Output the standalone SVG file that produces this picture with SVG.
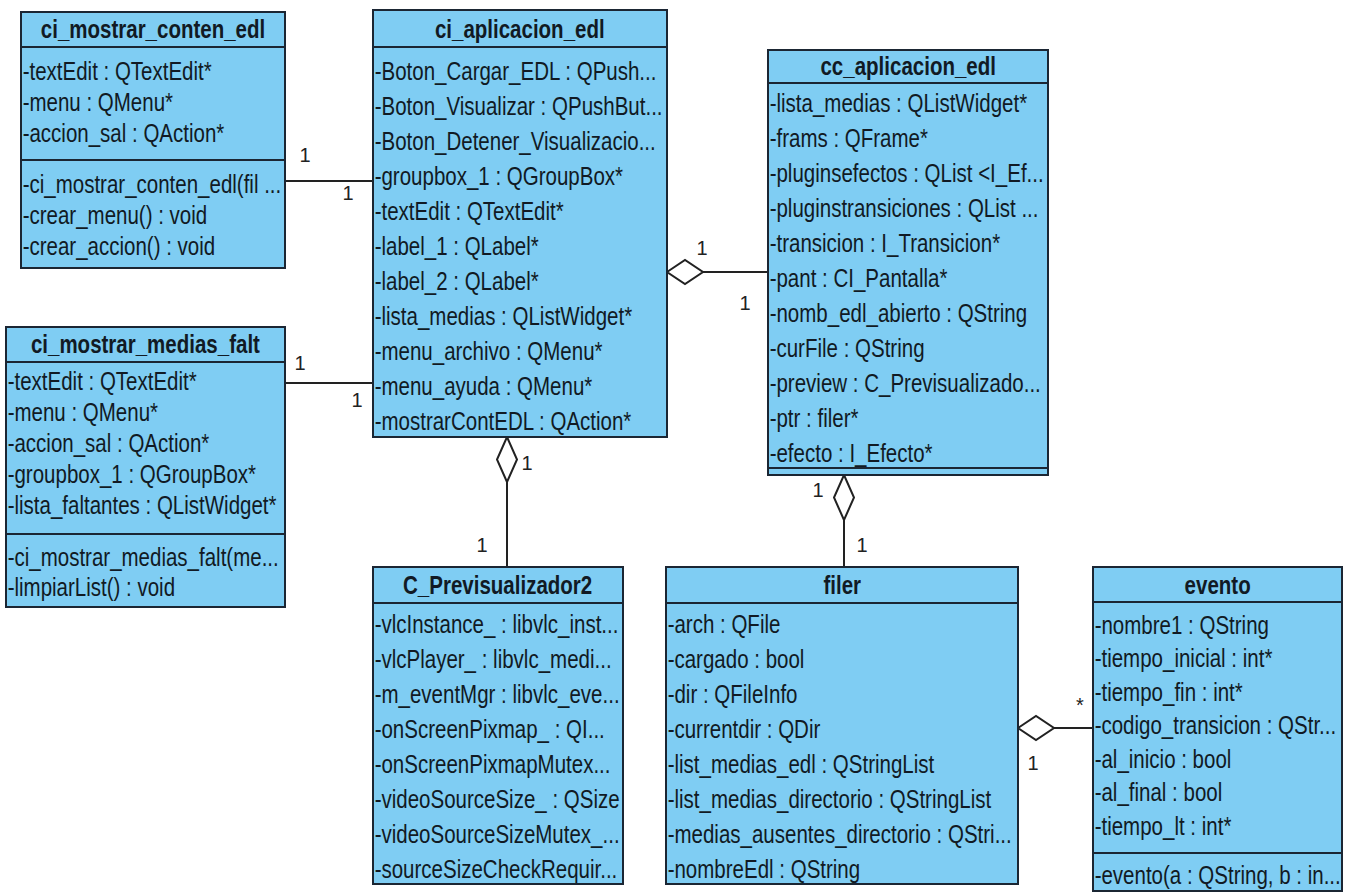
<svg xmlns="http://www.w3.org/2000/svg" width="1352" height="892" viewBox="0 0 1352 892">
  <style>
    .box { fill: #7fcdf3; stroke: #1b2633; stroke-width: 2; }
    .div { stroke: #1b2633; stroke-width: 2; }
    .t { font-family: "Liberation Sans", Arial, sans-serif; font-size: 25px; fill: #111a24; }
    .title { font-weight: bold; text-anchor: middle; }
    .conn { stroke: #222222; stroke-width: 2; fill: none; }
    .agg { fill: #ffffff; stroke: #222222; stroke-width: 2; }
    .mult { font-family: "Liberation Sans", Arial, sans-serif; font-size: 20px; fill: #222222; text-anchor: middle; }
  </style>
  <rect x="0" y="0" width="1352" height="892" fill="#ffffff"/>

  <!-- associations and aggregations -->
  <g id="connectors">
    <line class="conn" x1="285" y1="181" x2="373" y2="181"/>
    <line class="conn" x1="285" y1="383" x2="373" y2="383"/>
    <line class="conn" x1="703" y1="272" x2="768" y2="272"/>
    <polygon class="agg" points="667,272 685,260 703,272 685,284"/>
    <line class="conn" x1="507" y1="482" x2="507" y2="567"/>
    <polygon class="agg" points="507,437 517,459.5 507,482 497,459.5"/>
    <line class="conn" x1="844" y1="520" x2="844" y2="567"/>
    <polygon class="agg" points="844,475 854,497.5 844,520 834,497.5"/>
    <line class="conn" x1="1054" y1="728" x2="1093" y2="728"/>
    <polygon class="agg" points="1018,728 1036,716 1054,728 1036,740"/>
    <text class="mult" x="305" y="162">1</text>
    <text class="mult" x="348" y="200">1</text>
    <text class="mult" x="300" y="370">1</text>
    <text class="mult" x="357" y="407">1</text>
    <text class="mult" x="702" y="255">1</text>
    <text class="mult" x="745" y="310">1</text>
    <text class="mult" x="527" y="470">1</text>
    <text class="mult" x="482" y="552">1</text>
    <text class="mult" x="818" y="497">1</text>
    <text class="mult" x="862" y="552">1</text>
    <text class="mult" x="1080" y="712">*</text>
    <text class="mult" x="1033" y="770">1</text>
  </g>

  <g id="ci_mostrar_conten_edl">
    <rect class="box" x="21" y="12" width="264" height="256"/>
    <line class="div" x1="21" y1="47" x2="285" y2="47"/>
    <line class="div" x1="21" y1="160" x2="285" y2="160"/>
    <g class="t" transform="translate(21,0) scale(0.82,1)">
      <text class="title" x="161" y="38">ci_mostrar_conten_edl</text>
      <text x="2" y="80">-textEdit : QTextEdit*</text>
      <text x="2" y="111">-menu : QMenu*</text>
      <text x="2" y="142">-accion_sal : QAction*</text>
      <text x="2" y="193">-ci_mostrar_conten_edl(fil ...</text>
      <text x="2" y="224">-crear_menu() : void</text>
      <text x="2" y="255">-crear_accion() : void</text>
    </g>
  </g>

  <g id="ci_mostrar_medias_falt">
    <rect class="box" x="6" y="327" width="279" height="280"/>
    <line class="div" x1="6" y1="362" x2="285" y2="362"/>
    <line class="div" x1="6" y1="534" x2="285" y2="534"/>
    <g class="t" transform="translate(6,0) scale(0.82,1)">
      <text class="title" x="170" y="353">ci_mostrar_medias_falt</text>
      <text x="2" y="390">-textEdit : QTextEdit*</text>
      <text x="2" y="421">-menu : QMenu*</text>
      <text x="2" y="452">-accion_sal : QAction*</text>
      <text x="2" y="483">-groupbox_1 : QGroupBox*</text>
      <text x="2" y="514">-lista_faltantes : QListWidget*</text>
      <text x="2" y="566">-ci_mostrar_medias_falt(me...</text>
      <text x="2" y="596">-limpiarList() : void</text>
    </g>
  </g>

  <g id="ci_aplicacion_edl">
    <rect class="box" x="373" y="10" width="294" height="427"/>
    <line class="div" x1="373" y1="47" x2="667" y2="47"/>
    <g class="t" transform="translate(373,0) scale(0.82,1)">
      <text class="title" x="179" y="38">ci_aplicacion_edl</text>
      <text x="2" y="80">-Boton_Cargar_EDL : QPush...</text>
      <text x="2" y="115">-Boton_Visualizar : QPushBut...</text>
      <text x="2" y="150">-Boton_Detener_Visualizacio...</text>
      <text x="2" y="185">-groupbox_1 : QGroupBox*</text>
      <text x="2" y="220">-textEdit : QTextEdit*</text>
      <text x="2" y="255">-label_1 : QLabel*</text>
      <text x="2" y="290">-label_2 : QLabel*</text>
      <text x="2" y="325">-lista_medias : QListWidget*</text>
      <text x="2" y="360">-menu_archivo : QMenu*</text>
      <text x="2" y="395">-menu_ayuda : QMenu*</text>
      <text x="2" y="430">-mostrarContEDL : QAction*</text>
    </g>
  </g>

  <g id="cc_aplicacion_edl">
    <rect class="box" x="768" y="50" width="280" height="425"/>
    <line class="div" x1="768" y1="83" x2="1048" y2="83"/>
    <line class="div" x1="768" y1="468" x2="1048" y2="468"/>
    <g class="t" transform="translate(768,0) scale(0.82,1)">
      <text class="title" x="171" y="75">cc_aplicacion_edl</text>
      <text x="2" y="112">-lista_medias : QListWidget*</text>
      <text x="2" y="147">-frams : QFrame*</text>
      <text x="2" y="182">-pluginsefectos : QList &lt;I_Ef...</text>
      <text x="2" y="217">-pluginstransiciones : QList ...</text>
      <text x="2" y="252">-transicion : I_Transicion*</text>
      <text x="2" y="287">-pant : CI_Pantalla*</text>
      <text x="2" y="322">-nomb_edl_abierto : QString</text>
      <text x="2" y="357">-curFile : QString</text>
      <text x="2" y="392">-preview : C_Previsualizado...</text>
      <text x="2" y="427">-ptr : filer*</text>
      <text x="2" y="462">-efecto : I_Efecto*</text>
    </g>
  </g>

  <g id="C_Previsualizador2">
    <rect class="box" x="373" y="567" width="250" height="317"/>
    <line class="div" x1="373" y1="603" x2="623" y2="603"/>
    <g class="t" transform="translate(373,0) scale(0.82,1)">
      <text class="title" x="152" y="594">C_Previsualizador2</text>
      <text x="2" y="633">-vlcInstance_ : libvlc_inst...</text>
      <text x="2" y="668">-vlcPlayer_ : libvlc_medi...</text>
      <text x="2" y="703">-m_eventMgr : libvlc_eve...</text>
      <text x="2" y="738">-onScreenPixmap_ : QI...</text>
      <text x="2" y="773">-onScreenPixmapMutex...</text>
      <text x="2" y="808">-videoSourceSize_ : QSize</text>
      <text x="2" y="843">-videoSourceSizeMutex_...</text>
      <text x="2" y="878">-sourceSizeCheckRequir...</text>
    </g>
  </g>

  <g id="filer">
    <rect class="box" x="666" y="567" width="352" height="317"/>
    <line class="div" x1="666" y1="603" x2="1018" y2="603"/>
    <g class="t" transform="translate(666,0) scale(0.82,1)">
      <text class="title" x="215" y="594">filer</text>
      <text x="2" y="633">-arch : QFile</text>
      <text x="2" y="668">-cargado : bool</text>
      <text x="2" y="703">-dir : QFileInfo</text>
      <text x="2" y="738">-currentdir : QDir</text>
      <text x="2" y="773">-list_medias_edl : QStringList</text>
      <text x="2" y="808">-list_medias_directorio : QStringList</text>
      <text x="2" y="843">-medias_ausentes_directorio : QStri...</text>
      <text x="2" y="878">-nombreEdl : QString</text>
    </g>
  </g>

  <g id="evento">
    <rect class="box" x="1093" y="567" width="249" height="324"/>
    <line class="div" x1="1093" y1="602" x2="1342" y2="602"/>
    <line class="div" x1="1093" y1="853" x2="1342" y2="853"/>
    <g class="t" transform="translate(1093,0) scale(0.82,1)">
      <text class="title" x="152" y="594">evento</text>
      <text x="2" y="634">-nombre1 : QString</text>
      <text x="2" y="667">-tiempo_inicial : int*</text>
      <text x="2" y="701">-tiempo_fin : int*</text>
      <text x="2" y="734">-codigo_transicion : QStr...</text>
      <text x="2" y="768">-al_inicio : bool</text>
      <text x="2" y="801">-al_final : bool</text>
      <text x="2" y="835">-tiempo_lt : int*</text>
      <text x="2" y="884">-evento(a : QString, b : in...</text>
    </g>
  </g>
</svg>
